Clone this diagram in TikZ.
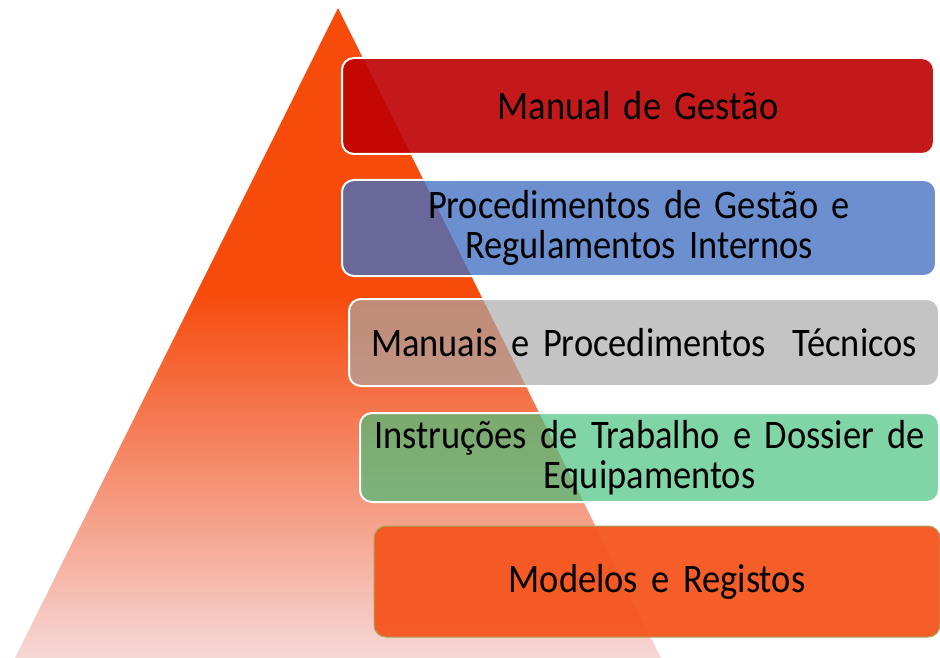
\documentclass[tikz,border=0pt]{standalone}
\usepackage{fontspec}
\setmainfont{Carlito}[FakeStretch=0.9,WordSpace=0.72]

\definecolor{pyrTop}{RGB}{247,75,12}
\definecolor{pyrMid}{RGB}{245,128,92}
\definecolor{pyrBase}{RGB}{246,216,214}
\definecolor{gestaoRed}{RGB}{190,0,2}
\definecolor{procBlue}{RGB}{67,111,194}
\definecolor{tecGray}{RGB}{168,168,168}
\definecolor{instGreen}{RGB}{68,193,124}
\definecolor{regOrange}{RGB}{245,85,30}
\definecolor{regEdge}{RGB}{165,165,95}

\pgfdeclareverticalshading{pyramidfade}{100bp}{color(0bp)=(pyrBase); color(25bp)=(pyrBase); color(42bp)=(pyrMid); color(53bp)=(pyrTop); color(100bp)=(pyrTop)}

\tikzset{
  every node/.style={
    font=\fontsize{40.5}{40}\selectfont
  },
  tier/.style n args={2}{
    shape=rectangle,
    rounded corners=12pt,
    draw=white,
    line width=2pt,
    fill=#1,
    fill opacity=#2,
    text opacity=1,
    text=black,
    inner sep=0pt,
    align=center
  }
}

\begin{document}
\begin{tikzpicture}[x=1pt,y=-1pt]
  \useasboundingbox (0,0) rectangle (940,658);
  \coordinate (apex) at (338,8);
  \coordinate (baseL) at (15,658);
  \coordinate (baseR) at (661,658);
  \shade [shading=pyramidfade] (apex) -- (baseL) -- (baseR) -- cycle;

  \node [tier={gestaoRed}{0.9}, text width=592pt, minimum height=96pt] (gestao) at (638,106) {Manual de Gestão};
  \node [tier={procBlue}{0.78}, text width=594pt, minimum height=96pt] (procedimentos) at (639,228) {
    Procedimentos de Gestão e\\Regulamentos Internos};
  \node [tier={tecGray}{0.68}, text width=590pt, minimum height=87pt] (tecnicos) at (644,342.5) {
    Manuais e Procedimentos\ \ Técnicos};
  \node [tier={instGreen}{0.68}, text width=579pt, minimum height=89pt] (instrucoes) at (649.5,457.5) {
    Instruções de Trabalho e Dossier de\\Equipamentos};
  \node [tier={regOrange}{0.95}, draw=regEdge, line width=1pt, text width=566pt, minimum height=111pt] (registos) at (657,581.5) {
    Modelos e Registos};
\end{tikzpicture}
\end{document}
